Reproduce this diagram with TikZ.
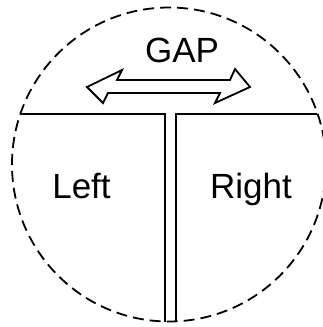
\documentclass[tikz,border=0pt]{standalone}
\usepackage{fontspec}
\setmainfont{Liberation Sans}

\begin{document}
\begin{tikzpicture}[
        x=1pt, y=-1pt,
        wall/.style={line width=1.8pt, line join=miter},
        rim/.style={line width=1.8pt, dash pattern=on 11pt off 6pt},
        side/.style={font=\fontsize{35}{35}\selectfont, anchor=base, inner sep=0pt}
    ]
        \useasboundingbox (0,0) rectangle (322,327);
        \draw[rim] (169,164.5) circle[radius=157];
        % split line and the two walls
        \coordinate (wl) at (21,114);
        \coordinate (wr) at (317,114);
        \draw[wall] (wl) -- (165,114) -- (165,322);
        \draw[wall] (wr) -- (176,114) -- (176,322);
        % hollow gap arrow
        \draw[wall] (87,87) -- (122,70) -- (117,80) -- (230,80) -- (235,69) -- (250,87)
            -- (215,103) -- (220,93) -- (108,93) -- (103,103) -- cycle;
        \node[side] (gap)   at (182,62)  {GAP};
        \node[side] (left)  at (81.5,198) {Left};
        \node[side] (right) at (251,198)  {Right};
    \end{tikzpicture}
\end{document}
